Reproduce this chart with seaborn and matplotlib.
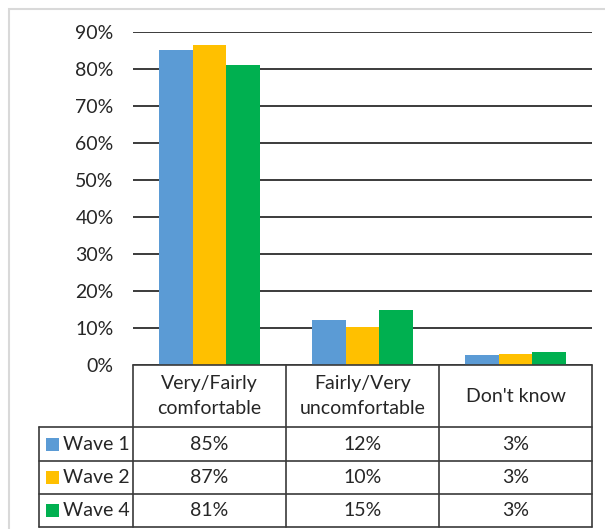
import matplotlib
matplotlib.use("Agg")
import matplotlib.pyplot as plt
from matplotlib.lines import Line2D
from matplotlib.patches import Rectangle
import seaborn as sns
import pandas as pd

categories = ["Very/Fairly\ncomfortable", "Fairly/Very\nuncomfortable", "Don't know"]
waves = ["Wave 1", "Wave 2", "Wave 4"]
wave1 = [85.2, 12.2, 2.6]
wave2 = [86.5, 10.3, 3.0]
wave4 = [81.2, 14.9, 3.4]
table_wave1 = ["85%", "12%", "3%"]
table_wave2 = ["87%", "10%", "3%"]
table_wave4 = ["81%", "15%", "3%"]
yticks = [0, 10, 20, 30, 40, 50, 60, 70, 80, 90]
colors = ["#5B9BD5", "#FFC000", "#00B050"]

sns.set_style("white")
plt.rcParams['font.family'] = ['Lato', 'DejaVu Sans']

W, H = 605, 529
fig = plt.figure(figsize=(W / 100, H / 100), dpi=100)

def fx(x):
    return x / W

def fy(y):
    return 1 - y / H

df = pd.DataFrame({
    "category": categories * 3,
    "wave": [waves[0]] * 3 + [waves[1]] * 3 + [waves[2]] * 3,
    "value": wave1 + wave2 + wave4,
})

ax = fig.add_axes([fx(133), fy(365), fx(592) - fx(133), fy(32) - fy(365)])
sns.barplot(data=df, x="category", y="value", hue="wave", palette=colors,
            width=0.66, gap=0, ax=ax, legend=False, saturation=1, zorder=3,
            linewidth=0)
ax.set_ylim(0, 90)
ax.set_xlim(-0.5, 2.5)
ax.set_yticks(yticks)
ax.set_yticklabels([f"{t}%" for t in yticks], fontsize=14, color="#262626")
ax.tick_params(axis="y", length=0, pad=14)
ax.set_xticks([])
ax.set_xlabel("")
ax.set_ylabel("")
for s in ax.spines.values():
    s.set_visible(False)
for t in yticks:
    ax.axhline(t, color="#1a1a1a", lw=1.2, zorder=1)

# outer chart border
fig.add_artist(Rectangle((fx(9), fy(600)), fx(700), fy(9) - fy(600),
                         transform=fig.transFigure, fill=False,
                         edgecolor="#d9d9d9", lw=1.5))

# table
line_c = "#3a3a3a"
lw = 1.2
fig.canvas.draw()
col_x = []
for b in [-0.5, 0.5, 1.5, 2.5]:
    px = ax.transData.transform((b, 0))[0]
    col_x.append(px / fig.dpi / fig.get_figwidth())
left_leg = fx(39)
row_y = [fy(365), fy(427), fy(461), fy(494), fy(527)]

def hline(x0, x1, y):
    fig.add_artist(Line2D([x0, x1], [y, y], transform=fig.transFigure,
                          color=line_c, lw=lw))

def vline(x, y0, y1):
    fig.add_artist(Line2D([x, x], [y0, y1], transform=fig.transFigure,
                          color=line_c, lw=lw))

hline(col_x[0], col_x[-1], row_y[0])
for y in row_y[1:]:
    hline(left_leg, col_x[-1], y)
for x in col_x:
    vline(x, row_y[0], row_y[-1])
vline(left_leg, row_y[1], row_y[-1])

fs = 14
for i, cat in enumerate(categories):
    cx = (col_x[i] + col_x[i + 1]) / 2
    fig.text(cx, (row_y[0] + row_y[1]) / 2, cat, ha="center", va="center",
             fontsize=fs, color="#262626", linespacing=1.6)

rows = [table_wave1, table_wave2, table_wave4]
for r, (wname, vals, col) in enumerate(zip(waves, rows, colors)):
    yc = (row_y[r + 1] + row_y[r + 2]) / 2
    sq = 13
    fig.add_artist(Rectangle((fx(46), yc - (sq / 2) / H), sq / W, sq / H,
                             transform=fig.transFigure, facecolor=col,
                             edgecolor="none"))
    fig.text(fx(63), yc, wname, ha="left", va="center", fontsize=fs,
             color="#262626")
    for i, v in enumerate(vals):
        cx = (col_x[i] + col_x[i + 1]) / 2
        fig.text(cx, yc, v, ha="center", va="center", fontsize=fs,
                 color="#262626")

fig.savefig("out.png", dpi=100, facecolor="white")
